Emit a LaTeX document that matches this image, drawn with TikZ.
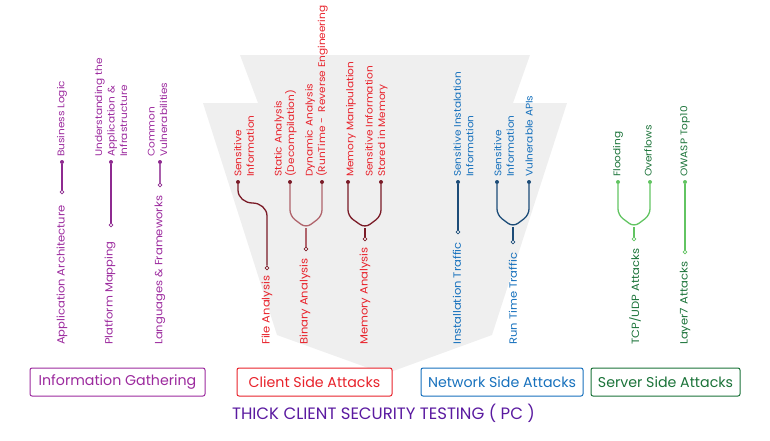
\documentclass[tikz,border=0pt]{standalone}
\usepackage{fontspec}
\setmainfont{Poppins}
\newfontfamily\popwide{Poppins}[FakeStretch=1.1]
\definecolor{igc}{HTML}{9C2A9E}
\definecolor{igl}{HTML}{8E2A90}
\definecolor{csc}{HTML}{E8222B}
\definecolor{csl}{HTML}{7A1B27}
\definecolor{csl2}{HTML}{B0646C}
\definecolor{nsc}{HTML}{1771BD}
\definecolor{nsl}{HTML}{1C4C78}
\definecolor{ssc}{HTML}{1B7339}
\definecolor{ssl}{HTML}{62C462}
\definecolor{ttl}{HTML}{5A1AA0}
\definecolor{shapefill}{HTML}{EFEFEF}
\tikzset{
  biglab/.style={rotate=90,anchor=west,inner sep=0pt,font=\popwide\fontsize{10.5}{13}\selectfont},
  smalllab/.style={rotate=90,anchor=west,inner sep=0pt,align=left,font=\popwide\fontsize{9.6}{12.5}\selectfont},
  fdot/.style={circle,fill=#1,inner sep=0pt,minimum size=4pt},
  odot/.style={circle,draw=#1,fill=white,line width=0.8pt,inner sep=0pt,minimum size=3.8pt},
  conn/.style={line width=1.3pt,#1},
  catbox/.style={draw=#1,text=#1,fill=white,line width=1pt,rounded corners=2pt,minimum height=28pt,inner sep=0pt,font=\fontsize{14.2}{16}\selectfont},
}
\begin{document}
\begin{tikzpicture}[x=1pt,y=-1pt]
\useasboundingbox (0,0) rectangle (770,440);
% background shape
\fill[shapefill] (240,55) -- (530,55) -- (513,103) -- (567,103) -- (492,335) -- (385,374) -- (277,335) -- (203,103) -- (258,103) -- cycle;

% ---------- Information Gathering ----------
\node[biglab,text=igc] (aa) at (62,345) {Application Architecture};
\node[biglab,text=igc] (pm) at (110,345) {Platform Mapping};
\node[biglab,text=igc] (lf) at (160,345) {Languages \& Frameworks};
\node[smalllab,text=igc] (bl) at (62,157) {Business Logic};
\node[smalllab,text=igc] (ua) at (111,157) {Understanding the\\Application \&\\Infrastructure};
\node[smalllab,text=igc] (cv) at (157.5,157) {Common\\Vulnerabilities};
\node[odot=igl] (aao) at (62,192) {};
\node[fdot=igl] (aaf) at (62,162) {};
\node[odot=igl] (pmo) at (111,225) {};
\node[fdot=igl] (pmf) at (111,162) {};
\node[odot=igl] (lfo) at (160,185) {};
\node[fdot=igl] (lff) at (160,162) {};
\draw[conn=igl] (aao) -- (aaf);
\draw[conn=igl] (pmo) -- (pmf);
\draw[conn=igl!75] (lfo) -- (lff);

% ---------- Client Side ----------
\node[biglab,text=csc] (fa) at (267,345) {File Analysis};
\node[biglab,text=csc] (ba) at (305,345) {Binary Analysis};
\node[biglab,text=csc] (ma) at (365,345) {Memory Analysis};
\node[smalllab,text=csc] (si) at (244,177) {Sensitive\\Information};
\node[smalllab,text=csc] (sa) at (285.5,177) {Static Analysis\\(Decompilation)};
\node[smalllab,text=csc] (da) at (316.5,177) {Dynamic Analysis\\(RunTime - \ Reverse Engineering};
\node[smalllab,text=csc] (mm) at (351,177) {Memory Manipulation};
\node[smalllab,text=csc] (sm) at (376.5,177) {Sensitive Information\\Stored in Memory};
% file analysis
\node[odot=csl] (fao) at (267,268) {};
\node[fdot=csl] (faf) at (238,182) {};
\draw[conn=csl] (faf) -- (238,190) to[out=-90,in=180] (252.5,203) to[out=0,in=90] (267,216) -- (fao);
% binary analysis
\node[odot=csl] (bao) at (306,249) {};
\coordinate (bam) at (306,228);
\node[fdot=csl] (baf1) at (290,182) {};
\node[fdot=csl] (baf2) at (322,182) {};
\draw[conn=csl2,rounded corners=6pt] (baf1) -- (290,216) -- (bam) -- (322,216) -- (baf2);
\draw[conn=csl2] (bam) -- (bao);
% memory analysis
\node[odot=csl] (mao) at (365,239) {};
\coordinate (mam) at (365,228);
\node[fdot=csl] (maf1) at (348,182) {};
\node[fdot=csl] (maf2) at (381,182) {};
\draw[conn=csl,rounded corners=6pt] (maf1) -- (348,216) -- (mam) -- (381,216) -- (maf2);
\draw[conn=csl] (mam) -- (mao);

% ---------- Network Side ----------
\node[biglab,text=nsc] (it) at (457,345) {Installation Traffic};
\node[biglab,text=nsc] (rt) at (513,345) {Run Time Traffic};
\node[smalllab,text=nsc] (sii) at (463.5,177) {Sensitive Instalation\\Information};
\node[smalllab,text=nsc] (sir) at (504,177) {Sensitive\\Information};
\node[smalllab,text=nsc] (va) at (529,177) {Vulnerable APIs};
\node[odot=nsl] (ito) at (458,232) {};
\node[fdot=nsl] (itf) at (458,182) {};
\draw[conn=nsl] (ito) -- (itf);
\node[odot=nsl] (rto) at (513,242) {};
\coordinate (rtm) at (513,227);
\node[fdot=nsl] (rtf1) at (497,182) {};
\node[fdot=nsl] (rtf2) at (529,182) {};
\draw[conn=nsl,rounded corners=6pt] (rtf1) -- (497,215) -- (rtm) -- (529,215) -- (rtf2);
\draw[conn=nsl] (rtm) -- (rto);

% ---------- Server Side ----------
\node[biglab,text=ssc] (tu) at (635,345) {TCP/UDP Attacks};
\node[biglab,text=ssc] (l7) at (685,345) {Layer7 Attacks};
\node[smalllab,text=ssc] (fl) at (618,177) {Flooding};
\node[smalllab,text=ssc] (ov) at (648,177) {Overflows};
\node[smalllab,text=ssc] (ow) at (685,177) {OWASP Top10};
\node[odot=ssl] (tuo) at (634,239) {};
\coordinate (tum) at (634,227);
\node[fdot=ssl] (tuf1) at (618,182) {};
\node[fdot=ssl] (tuf2) at (650,182) {};
\draw[conn=ssl,rounded corners=6pt] (tuf1) -- (618,215) -- (tum) -- (650,215) -- (tuf2);
\draw[conn=ssl] (tum) -- (tuo);
\node[odot=ssl] (l7o) at (685,252) {};
\node[fdot=ssl] (l7f) at (685,182) {};
\draw[conn=ssl] (l7o) -- (l7f);

% ---------- Category boxes ----------
\node[catbox=igc,minimum width=175pt] (ig) at (117.5,382) {Information Gathering};
\node[catbox=csc,minimum width=155pt] (cs) at (314.5,382) {Client Side Attacks};
\node[catbox=nsc,minimum width=162pt] (ns) at (502,382) {Network Side Attacks};
\node[catbox=ssc,minimum width=149pt] (ss) at (665.5,382) {Server Side Attacks};
\node[text=ttl,font=\fontsize{16.5}{18}\selectfont,inner sep=0pt] (title) at (383.5,413) {THICK CLIENT SECURITY TESTING ( PC )};
\end{tikzpicture}
\end{document}
